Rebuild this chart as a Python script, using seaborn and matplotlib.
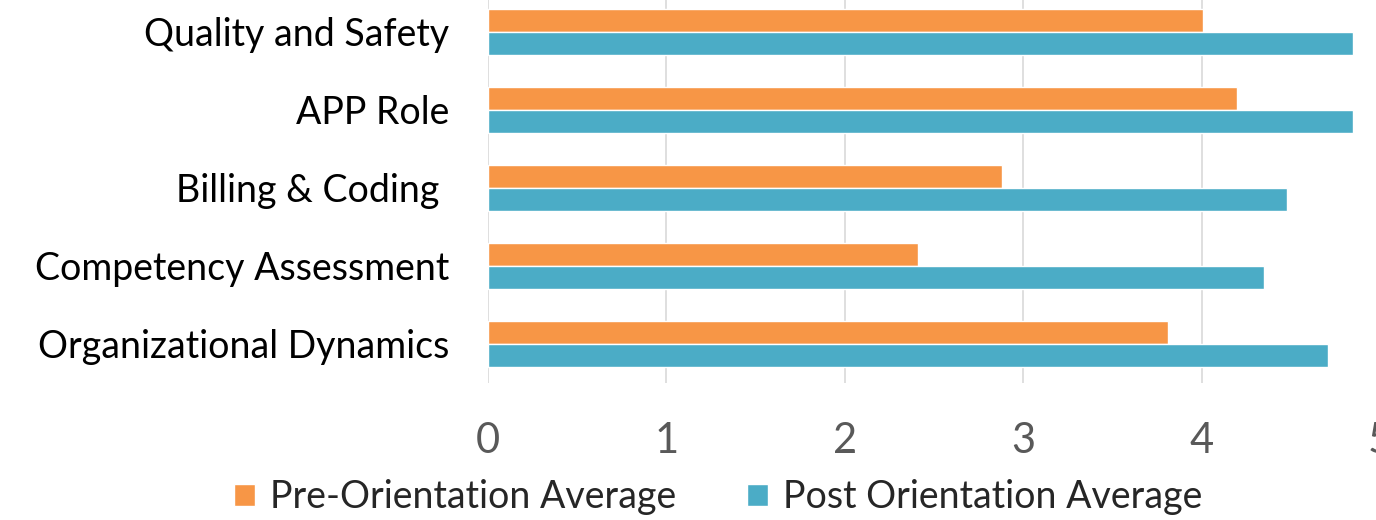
import matplotlib
matplotlib.use("Agg")
from matplotlib import pyplot as plt
import seaborn as sns
import pandas as pd

categories = ["Quality and Safety", "APP Role", "Billing & Coding ",
              "Competency Assessment", "Organizational Dynamics"]
pre_avg = [4.01, 4.20, 2.88, 2.41, 3.81]
post_avg = [4.85, 4.85, 4.48, 4.35, 4.71]
series = ["Pre-Orientation Average", "Post Orientation Average"]
colors = ["#F79646", "#4BACC6"]

df = pd.DataFrame({
    "topic": categories * 2,
    "score": pre_avg + post_avg,
    "group": [series[0]] * len(categories) + [series[1]] * len(categories),
})

sns.set_style("white")
plt.rcParams["font.family"] = ["Lato", "DejaVu Sans"]

fig = plt.figure(figsize=(13.76, 5.2), dpi=100)
ax = fig.add_axes([0.3547, 0.2635, 0.6483, 0.75])

sns.barplot(data=df, x="score", y="topic", hue="group", order=categories,
            hue_order=series, palette=colors, orient="h", width=0.58,
            saturation=1, ax=ax)

ax.set_xlim(0, 5)
ax.set_xticks([0, 1, 2, 3, 4, 5])
ax.xaxis.grid(True, color="#D9D9D9", linewidth=1.2)
ax.set_axisbelow(True)
for s in ax.spines.values():
    s.set_visible(False)
ax.set_xlabel("")
ax.set_ylabel("")
ax.tick_params(axis="x", length=0, pad=28, labelsize=30, labelcolor="#595959")
ax.tick_params(axis="y", length=0, pad=28, labelsize=27, labelcolor="black")

ax.legend(loc="center", bbox_to_anchor=(0.522, 0.044), bbox_transform=fig.transFigure,
          ncol=2, frameon=False, fontsize=27, handlelength=0.55, handleheight=0.55,
          handletextpad=0.4, columnspacing=1.9, labelcolor="#262626")

fig.savefig("out.png", dpi=100)
